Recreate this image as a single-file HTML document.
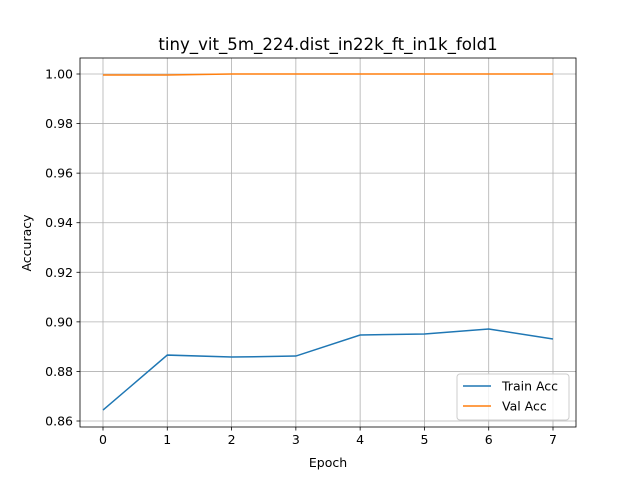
<!DOCTYPE html>
<html><head><meta charset="utf-8"><style>body{margin:0;background:#fff}svg{display:block}text{font-family:"DejaVu Sans","Liberation Sans",sans-serif;fill:#000}</style></head>
<body>
<svg id="chart" width="640" height="480">
<text x="328" y="50" font-size="16.6" text-anchor="middle">tiny_vit_5m_224.dist_in22k_ft_in1k_fold1</text>
<g id="grid"></g><g id="axes"></g><g id="series"></g>
<text x="328" y="467" font-size="12.5" text-anchor="middle">Epoch</text>
<text transform="translate(31,243) rotate(-90)" font-size="12.5" text-anchor="middle">Accuracy</text>
<g>
<rect x="457" y="374" width="112" height="46" rx="3" fill="#fff" fill-opacity="0.8" stroke="#ccc"/>
<g><line x1="463" y1="386" x2="491" y2="386" stroke="#1f77b4" stroke-width="1.5"/><text x="502" y="390.5" font-size="12.5">Train Acc</text></g>
<g><line x1="463" y1="406" x2="491" y2="406" stroke="#ff7f0e" stroke-width="1.5"/><text x="502" y="410.5" font-size="12.5">Val Acc</text></g>
</g>
</svg>
<script>
const epochs=[0,1,2,3,4,5,6,7];
const trainAcc=[0.8644,0.8866,0.8858,0.8862,0.8947,0.8951,0.8971,0.8931];
const valAcc=[0.9996,0.9996,1.0,1.0,1.0,1.0,1.0,1.0];
const yTicks=[0.86,0.88,0.90,0.92,0.94,0.96,0.98,1.00];
const xTicks=[0,1,2,3,4,5,6,7];
const L=80,R=576,T=58,B=427;
const xs=v=>103+v*(553-103)/7;
const ys=v=>421-(v-0.86)*(421-74)/0.14;
const NS='http://www.w3.org/2000/svg';
function mk(p,t,a){const e=document.createElementNS(NS,t);for(const k in a)e.setAttribute(k,a[k]);p.appendChild(e);return e;}
const g=document.getElementById('grid'),ax=document.getElementById('axes'),s=document.getElementById('series');
xTicks.forEach(v=>{const x=xs(v);
const gl=mk(g,'line',{x1:x,x2:x,y1:T,y2:B,stroke:'#b0b0b0','stroke-width':0.8});


mk(ax,'line',{x1:x,x2:x,y1:B,y2:B+3.5,stroke:'#000','stroke-width':0.8});
const t=mk(ax,'text',{x:x,y:B+17,'font-size':12.5,'text-anchor':'middle'});t.textContent=v;

});
yTicks.forEach(v=>{const y=ys(v);
const gl=mk(g,'line',{x1:L,x2:R,y1:y,y2:y,stroke:'#b0b0b0','stroke-width':0.8});


mk(ax,'line',{x1:L-3.5,x2:L,y1:y,y2:y,stroke:'#000','stroke-width':0.8});
const t=mk(ax,'text',{x:L-7,y:y+4.5,'font-size':12.5,'text-anchor':'end'});t.textContent=v.toFixed(2);

});
const fr=mk(ax,'rect',{x:L,y:T,width:R-L,height:B-T,fill:'none',stroke:'#000','stroke-width':0.8});


function line(d,c,n){const p=mk(s,'polyline',{points:d.map((v,i)=>xs(epochs[i])+','+ys(v)).join(' '),fill:'none',stroke:c,'stroke-width':1.5});

}
line(trainAcc,'#1f77b4','train-acc-line');
line(valAcc,'#ff7f0e','val-acc-line');
</script>
</body></html>
